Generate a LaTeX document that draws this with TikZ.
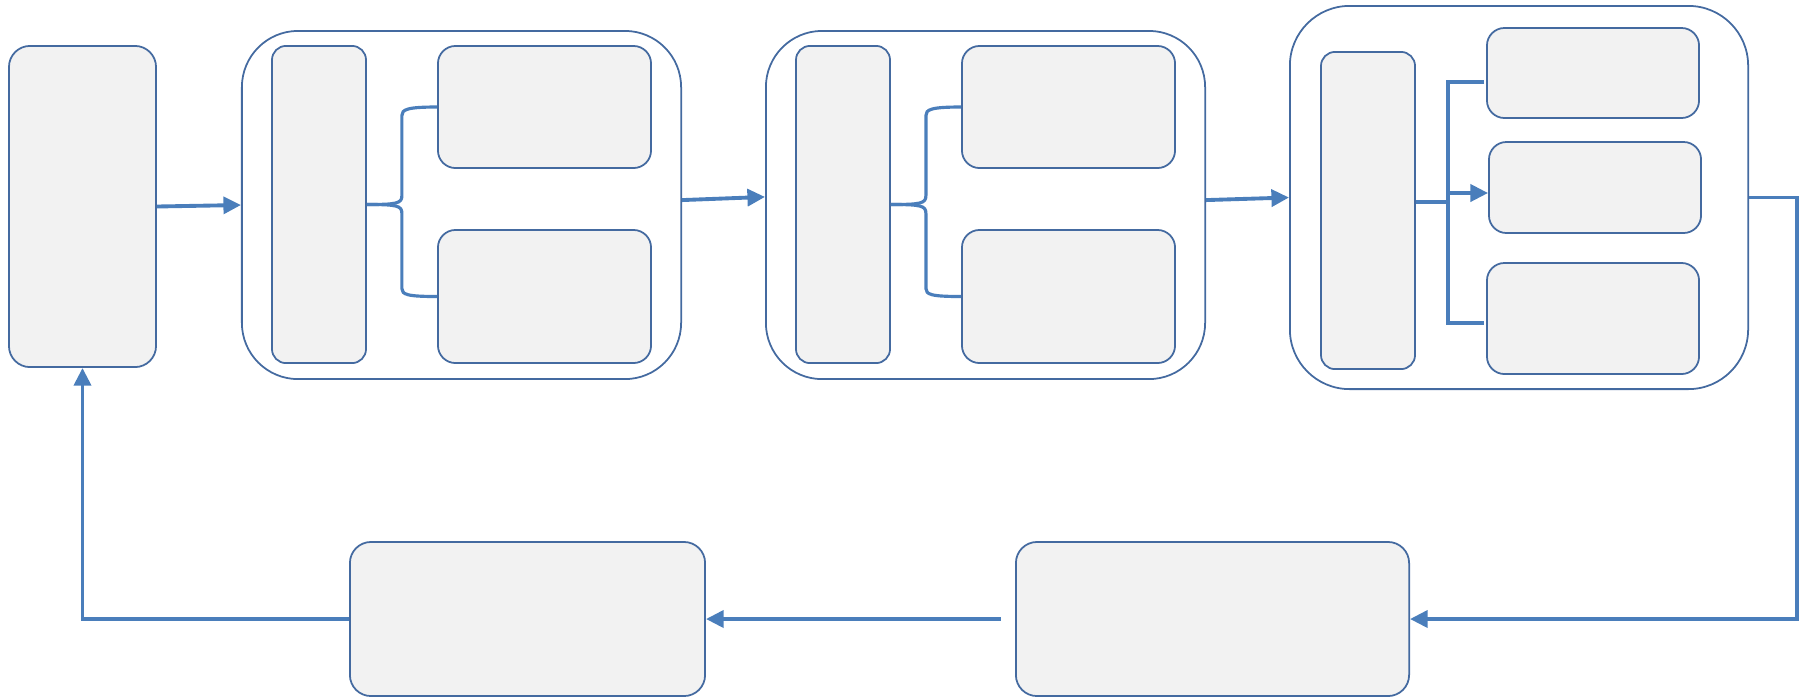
\documentclass[tikz,border=0pt]{standalone}
\usetikzlibrary{arrows.meta,calc}

\definecolor{boxline}{RGB}{68,106,160}
\definecolor{linkblue}{RGB}{74,126,187}
\definecolor{boxfill}{RGB}{242,242,242}

\tikzset{>={Triangle[length=5pt,width=4.8pt]}}

\begin{document}
\begin{tikzpicture}[x=0.01cm, y=-0.01cm,
		box/.style={draw=boxline, fill=boxfill, line width=0.5pt, inner sep=0pt, rounded corners=5pt},
		group/.style={draw=boxline, fill=white, line width=0.5pt, inner sep=0pt, rounded corners=16pt},
		link/.style={draw=linkblue, line width=1.1pt}]

	\useasboundingbox (0,0) rectangle (1800,699);

	% start block
	\node[box, rounded corners=6pt, minimum width=1.47cm, minimum height=3.21cm] (start) at (82.5,206.5) {};

	% two stages with a split
	\foreach \g/\dx in {a/0,b/524}{
		\node[group, minimum width=4.39cm, minimum height=3.48cm] (g\g) at (461.5+\dx,205) {};
		\node[box, rounded corners=4pt, minimum width=0.94cm, minimum height=3.17cm] (\g in) at (319+\dx,204.5) {};
		\node[box, minimum width=2.13cm, minimum height=1.22cm] (\g up) at (544.5+\dx,107) {};
		\node[box, minimum width=2.13cm, minimum height=1.33cm] (\g dn) at (544.5+\dx,296.5) {};

		\draw[link, line width=0.9pt] (\g in.east) .. controls +(30,0) and +(0,8) .. ++(35,-9)
			-- ++(0,-80) .. controls +(0,-6) and +(-30,0) .. (\g up.west);
		\draw[link, line width=0.9pt] (\g in.east) .. controls +(30,0) and +(0,-8) .. ++(35,9)
			-- ++(0,75) .. controls +(0,6) and +(-30,0) .. (\g dn.west);
	}

	% third stage with three outputs
	\node[group, rounded corners=17pt, minimum width=4.58cm, minimum height=3.83cm] (gc) at (1519,197.5) {};
	\node[box, rounded corners=4pt, minimum width=0.94cm, minimum height=3.17cm] (cin) at (1368,210.5) {};
	\node[box, minimum width=2.12cm, minimum height=0.90cm] (cr1) at (1593,73) {};
	\node[box, minimum width=2.12cm, minimum height=0.91cm] (cr2) at (1595,187.5) {};
	\node[box, minimum width=2.12cm, minimum height=1.11cm] (cr3) at (1593,318.5) {};

	\coordinate (bus) at (1448,202);
	\draw[link] (cin.east |- bus) -- (bus);
	\draw[link] (1484,82) -| (1448,323) -- (1484,323);
	\draw[link, ->] (1448,193) -- (cr2.west |- 0,193);

	% bottom row
	\node[box, rounded corners=6pt, minimum width=3.55cm, minimum height=1.54cm] (back) at (527.5,619) {};
	\node[box, rounded corners=6pt, minimum width=3.93cm, minimum height=1.54cm] (eval) at (1212.5,619) {};

	% connectors
	\draw[link, ->] (start.east) -- (ga.west);
	\draw[link, ->] ([yshift=1.4pt]ga.east) -- ([yshift=2.3pt]gb.west);
	\draw[link, ->] ([yshift=1.4pt]gb.east) -- (gc.west);
	\draw[link, ->] (gc.east) -- (1797,197.5) |- (eval.east);
	\draw[link, ->] ([xshift=-4pt]eval.west) -- (back.east);
	\draw[link, ->] (back.west) -| (start.south);

\end{tikzpicture}
\end{document}
